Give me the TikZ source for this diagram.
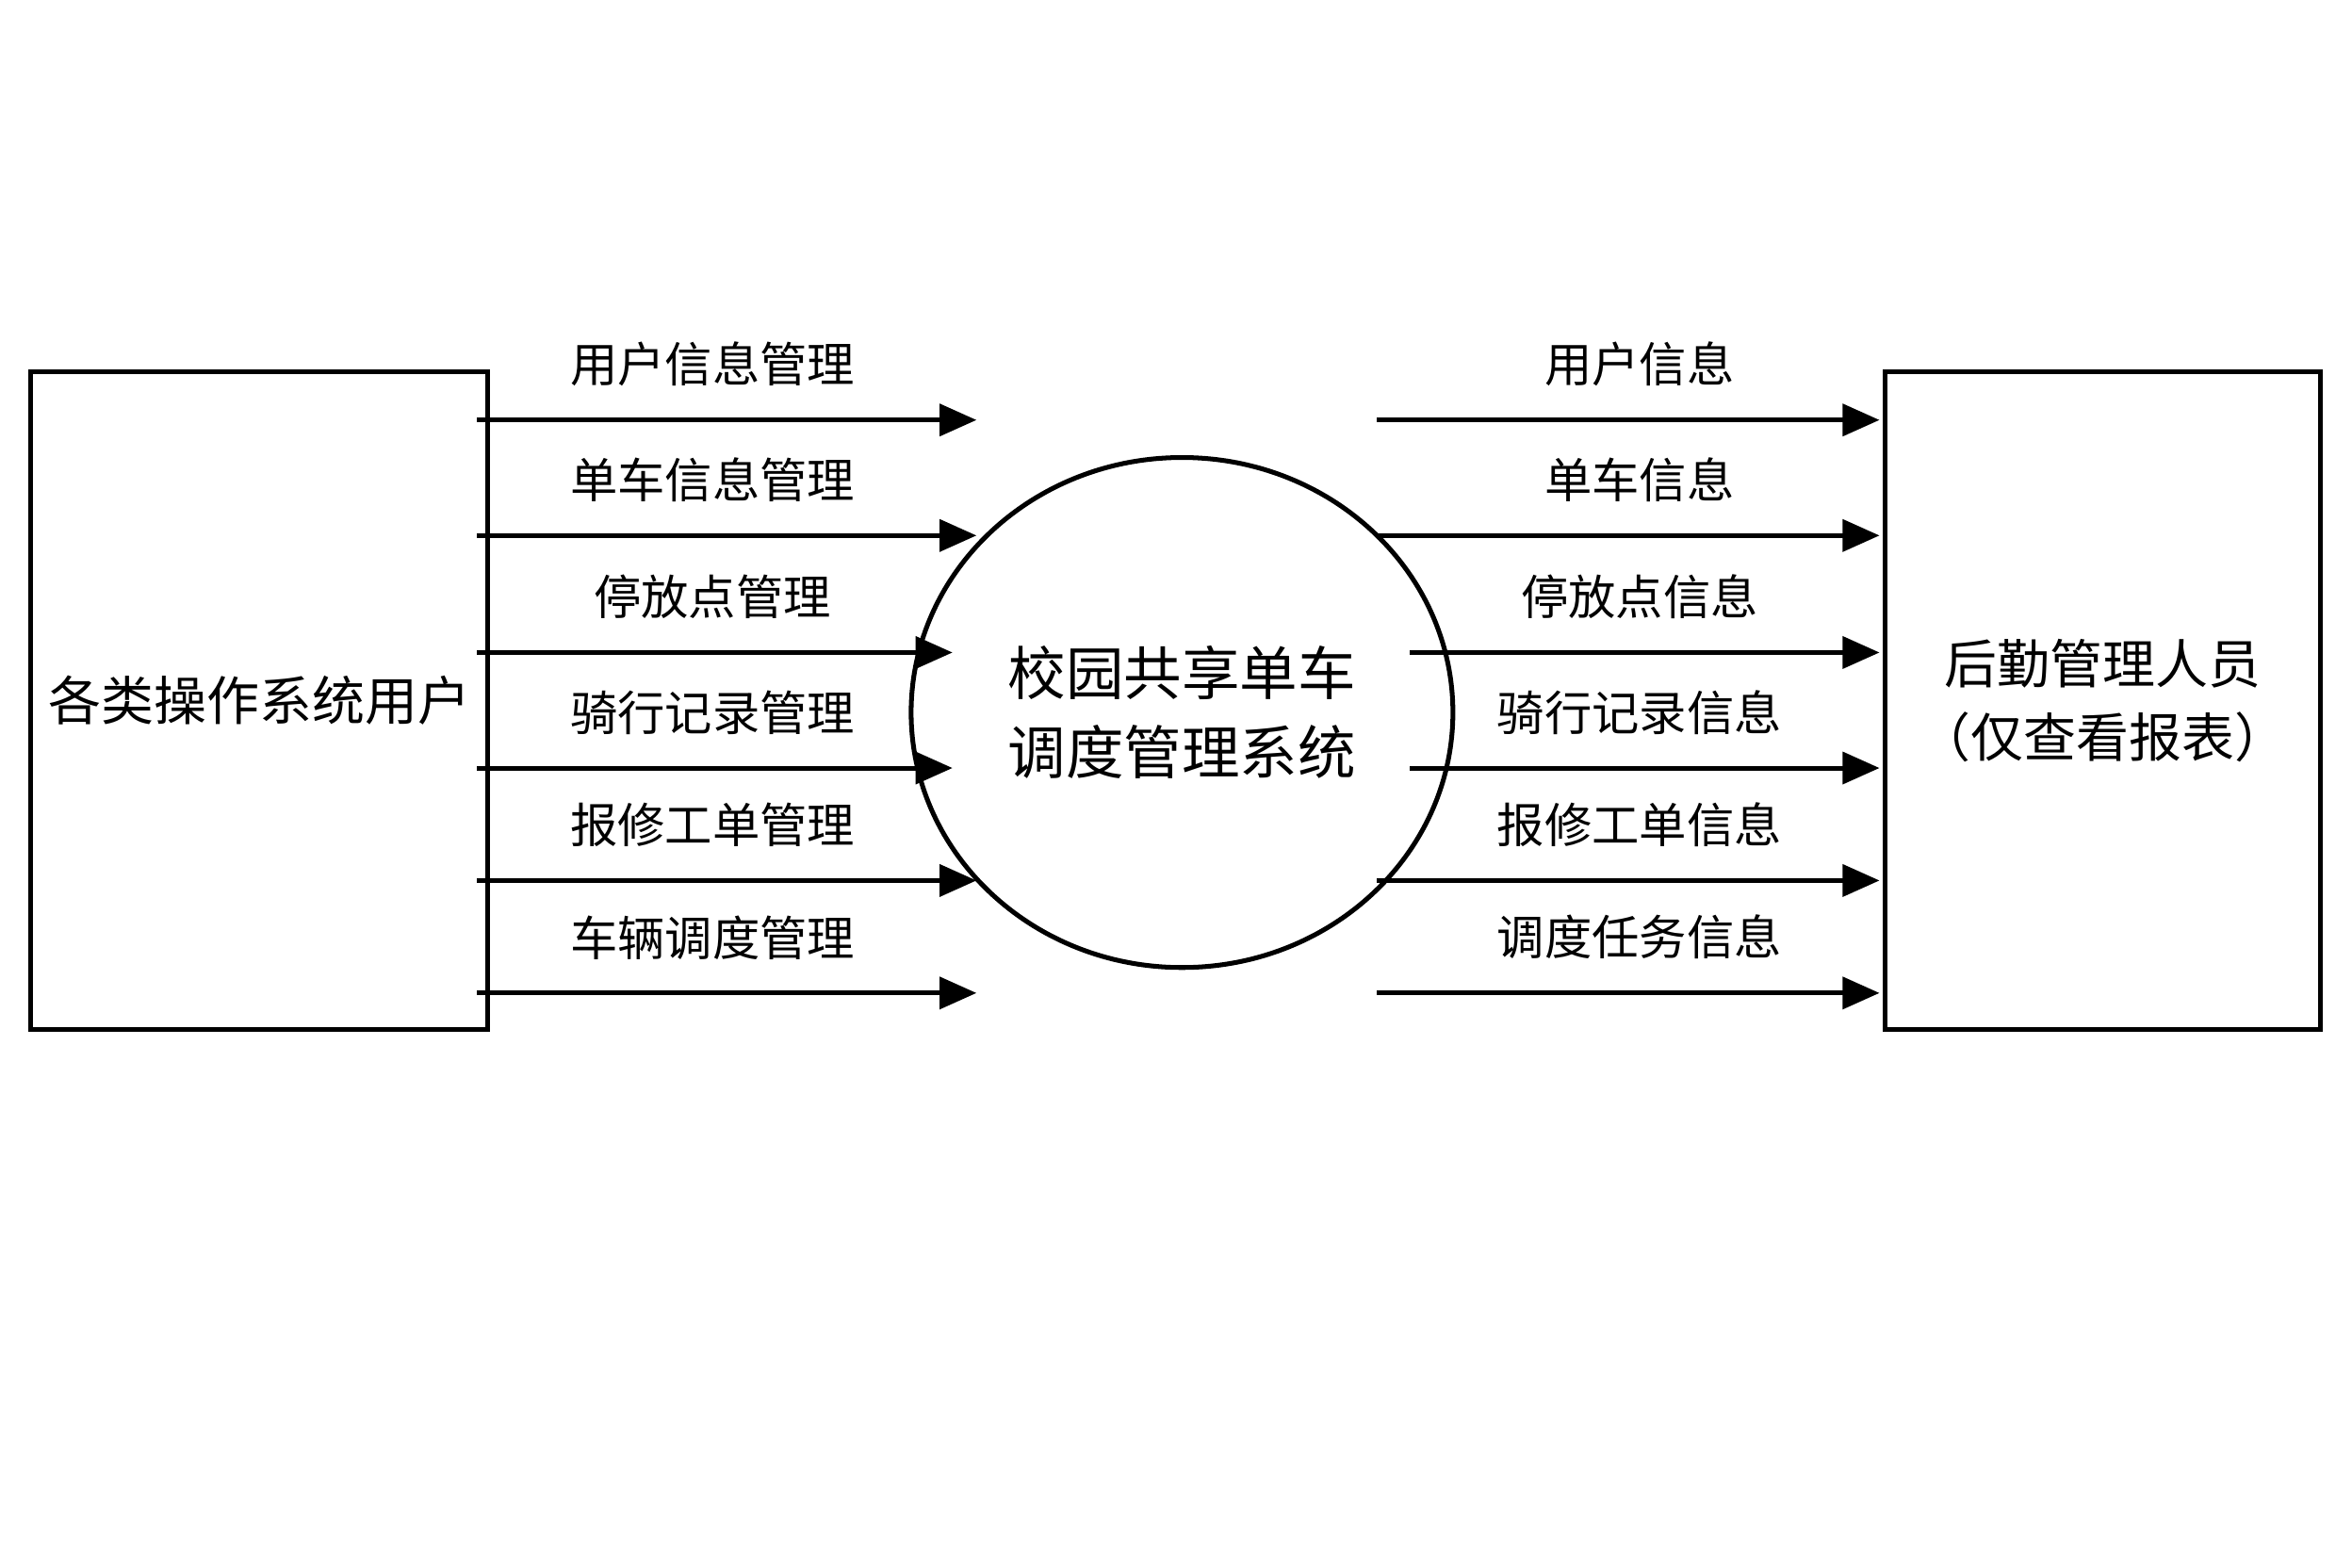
\documentclass[tikz,border=0pt]{standalone}
\usepackage{fontspec}
\setmainfont{Noto Sans CJK SC}
\usetikzlibrary{arrows.meta,shapes.geometric}
\tikzset{
	flow/.style={line width=0.9pt,-{Triangle[length=7pt,width=6pt]}},
	lbl/.style={font=\fontsize{9}{11}\selectfont,anchor=south}
}
\begin{document}
\begin{tikzpicture}[yscale=-1]
	\useasboundingbox (0,0) rectangle (15.68,10.45);
	
	\node[draw,line width=0.9pt,minimum width=2.9cm,minimum height=4.38cm,font=\fontsize{10}{12}\selectfont] (users) at (1.73,4.67) {各类操作系统用户};
	\node[draw,line width=0.9pt,minimum width=2.9cm,minimum height=4.38cm,align=center,font=\fontsize{10}{14}\selectfont] (staff) at (14.02,4.67) {后勤管理人员\\（仅查看报表）};
	\node[draw,ellipse,line width=0.9pt,minimum width=3.04cm,minimum height=3.4cm,align=center,font=\fontsize{11}{15}\selectfont] (sys) at (7.88,4.75) {校园共享单车\\调度管理系统};
	
	% left flows
	\foreach \y/\xe/\t in {2.80/6.51/用户信息管理, 3.57/6.51/单车信息管理, 4.35/6.35/停放点管理,
		5.12/6.35/骑行记录管理, 5.87/6.51/报修工单管理, 6.62/6.51/车辆调度管理} {
		\coordinate (ls) at (3.18,\y);
		\coordinate (le) at (\xe,\y);
		\draw[flow] (ls) -- (le);
		\node[lbl] at (4.75,\y-0.1) {\t};
	}
	
	% right flows
	\foreach \y/\xs/\t in {2.80/9.18/用户信息, 3.57/9.18/单车信息, 4.35/9.40/停放点信息,
		5.12/9.40/骑行记录信息, 5.87/9.18/报修工单信息, 6.62/9.18/调度任务信息} {
		\coordinate (rs) at (\xs,\y);
		\coordinate (re) at (12.53,\y);
		\draw[flow] (rs) -- (re);
		\node[lbl] at (10.93,\y-0.1) {\t};
	}
\end{tikzpicture}
\end{document}
